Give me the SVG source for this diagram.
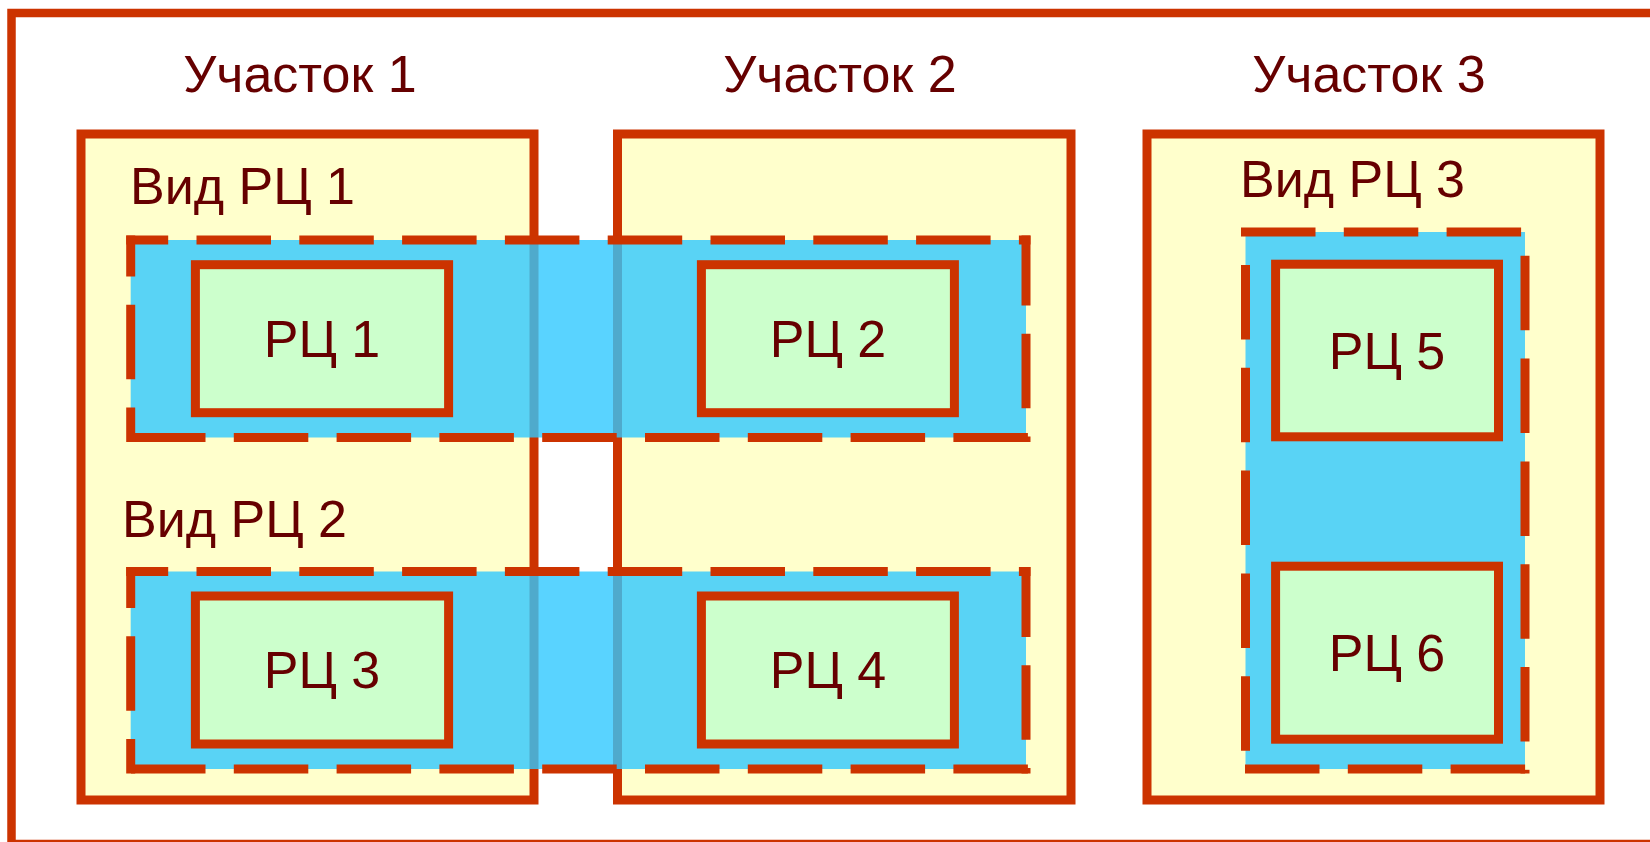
<svg xmlns="http://www.w3.org/2000/svg" width="1650" height="842" viewBox="0 0 1650 842">
<style>
.frame{fill:#ffffff;stroke:#cc3300;stroke-width:8.5}
.area{fill:#ffffcc;stroke:#cc3300;stroke-width:9}
.band{fill:#2fc8ff;fill-opacity:0.8;stroke:none}
.dash{stroke:#cc3300;stroke-width:9;stroke-dasharray:74.5 28.3;fill:none}
.rc{fill:#ccffcc;stroke:#cc3300;stroke-width:9}
text{font-family:"Liberation Sans",Arial,sans-serif;font-size:52px;fill:#660000}
.c{text-anchor:middle}
</style>
<rect width="1650" height="842" fill="#ffffff"/>
<rect class="frame" x="11.5" y="13" width="1660" height="831"/>

<g id="uchastok1"><rect class="area" x="81" y="134" width="453" height="666"/><text class="c" x="300" y="92">Участок 1</text></g>
<g id="uchastok2"><rect class="area" x="617.5" y="134" width="453.5" height="666"/><text class="c" x="840" y="92">Участок 2</text></g>
<g id="uchastok3"><rect class="area" x="1147" y="134" width="453" height="666"/><text class="c" x="1369" y="92">Участок 3</text></g>

<g id="vid1">
<rect class="band" x="130.7" y="240" width="895.3" height="197.5"/>
<line class="dash" x1="126.2" y1="240" x2="1030.5" y2="240" stroke-dashoffset="32.5"/>
<line class="dash" x1="1026" y1="235.5" x2="1026" y2="442" stroke-dashoffset="4.5"/>
<line class="dash" x1="131" y1="437.5" x2="1030.5" y2="437.5"/>
<line class="dash" x1="130.7" y1="235.5" x2="130.7" y2="442" stroke-dashoffset="33.5"/>
<text x="130" y="204">Вид РЦ 1</text>
</g>
<g id="vid2">
<rect class="band" x="130.7" y="571.5" width="895.3" height="197.5"/>
<line class="dash" x1="126.2" y1="571.5" x2="1030.5" y2="571.5" stroke-dashoffset="32.5"/>
<line class="dash" x1="1026" y1="567" x2="1026" y2="773.5" stroke-dashoffset="4.5"/>
<line class="dash" x1="131" y1="769" x2="1030.5" y2="769"/>
<line class="dash" x1="130.7" y1="567" x2="130.7" y2="773.5" stroke-dashoffset="33.5"/>
<text x="122" y="537">Вид РЦ 2</text>
</g>
<g id="vid3">
<rect class="band" x="1245.5" y="232" width="279.5" height="537"/>
<line class="dash" x1="1241" y1="232" x2="1529.5" y2="232"/>
<line class="dash" x1="1525" y1="227.5" x2="1525" y2="773.5" stroke-dashoffset="74.5"/>
<line class="dash" x1="1245" y1="769" x2="1525.5" y2="769"/>
<line class="dash" x1="1245.5" y1="265" x2="1245.5" y2="773.5"/>
<text x="1240" y="197">Вид РЦ 3</text>
</g>

<g id="rc1"><rect class="rc" x="195.4" y="264.7" width="253.2" height="148"/><text class="c" x="322" y="357">РЦ 1</text></g>
<g id="rc2"><rect class="rc" x="701.4" y="264.7" width="253" height="148"/><text class="c" x="828" y="357">РЦ 2</text></g>
<g id="rc3"><rect class="rc" x="195.4" y="596" width="253.2" height="148"/><text class="c" x="322" y="688">РЦ 3</text></g>
<g id="rc4"><rect class="rc" x="701.4" y="596" width="253" height="148"/><text class="c" x="828" y="688">РЦ 4</text></g>
<g id="rc5"><rect class="rc" x="1275.6" y="264.2" width="222.9" height="172.6"/><text class="c" x="1387" y="368.5">РЦ 5</text></g>
<g id="rc6"><rect class="rc" x="1275.6" y="566.2" width="222.9" height="173"/><text class="c" x="1387" y="671">РЦ 6</text></g>
</svg>
